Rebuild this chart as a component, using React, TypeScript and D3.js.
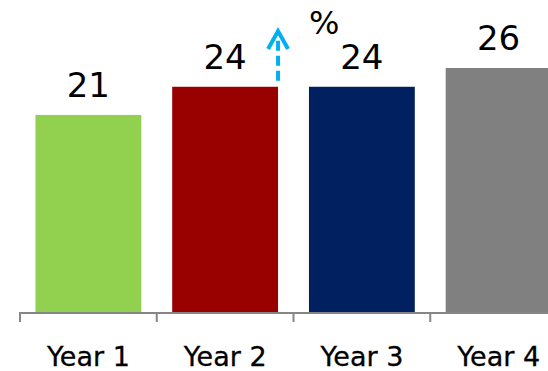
import React from "react";
import * as d3 from "d3";

const categories: string[] = ["Year 1", "Year 2", "Year 3", "Year 4"];
const values: number[] = [21, 24, 24, 26];
const colors: string[] = ["#92D050", "#990000", "#002060", "#808080"];
const unitLabel = "%";

const W = 548;
const H = 371;
const baseY = 312;
const axisLeft = 20;
const axisRight = 567;

export default function App() {
  const x = d3.scaleBand<string>().domain(categories).range([axisLeft, axisRight]).padding(0);
  const y = d3.scaleLinear().domain([0, 26]).range([baseY, 68]);
  const barW = x.bandwidth() * 0.774;
  const barX = (c: string) => (x(c) as number) + (x.bandwidth() - barW) / 2;

  const tickXs = categories.map((c) => x(c) as number).concat([axisRight]);

  // annotation arrow at the right edge of the second bar
  const arrowX = barX(categories[1]) + barW;
  const arrowBottom = y(values[1]) - 6;
  const arrowTip = 29;

  return (
    <svg
      width={W}
      height={H}
      style={{ position: "absolute", left: 0, top: 0, background: "#fff" }}
      fontFamily="DejaVu Sans, Verdana, sans-serif"
    >
      {categories.map((c, i) => (
        <g key={c}>
          <rect
            x={barX(c)}
            y={y(values[i])}
            width={barW}
            height={baseY - y(values[i])}
            fill={colors[i]}
          />
          <text
            x={barX(c) + barW / 2}
            y={y(values[i]) - 18}
            textAnchor="middle"
            fontSize={34}
            fill="#000"
          >
            {values[i]}
          </text>
          <text
            x={(x(c) as number) + x.bandwidth() / 2}
            y={366}
            textAnchor="middle"
            fontSize={27}
            fill="#000"
            stroke="#000"
            strokeWidth={0.3}
          >
            {c}
          </text>
        </g>
      ))}

      {/* category axis */}
      <line x1={axisLeft - 1} x2={axisRight} y1={baseY + 1} y2={baseY + 1} stroke="#868686" strokeWidth={2} />
      {tickXs.map((t, i) => (
        <line key={i} x1={t} x2={t} y1={baseY} y2={baseY + 10} stroke="#868686" strokeWidth={2} />
      ))}

      {/* dashed upward arrow */}
      <line
        x1={arrowX}
        x2={arrowX}
        y1={arrowBottom}
        y2={arrowTip + 3}
        stroke="#00B0F0"
        strokeWidth={4}
        strokeDasharray="10 5"
      />
      <polyline
        points={`${arrowX - 10},${arrowTip + 20} ${arrowX},${arrowTip + 2} ${arrowX + 10},${arrowTip + 20}`}
        fill="none"
        stroke="#00B0F0"
        strokeWidth={4}
      />

      <text x={309} y={34} fontSize={32} fill="#000">
        {unitLabel}
      </text>
    </svg>
  );
}
